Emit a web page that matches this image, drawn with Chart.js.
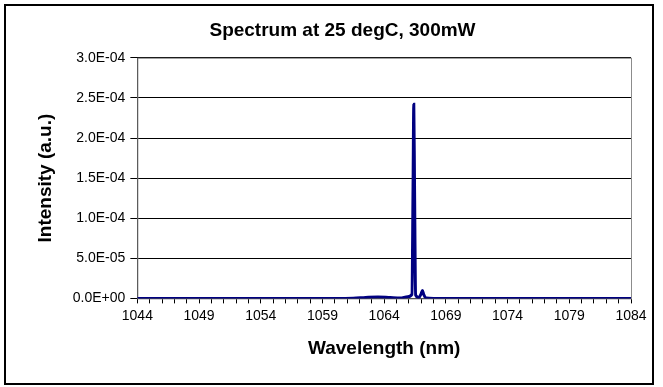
<!DOCTYPE html>
<html>
<head>
<meta charset="utf-8">
<script src="https://cdn.jsdelivr.net/npm/chart.js@4.4.1/dist/chart.umd.min.js"></script>
<style>
  body { margin: 0; background: #fff; }
  #wrap { position: relative; width: 663px; height: 387px; }
  #frame { position: absolute; left: 4px; top: 4px; width: 646px; height: 377px; border: 2px solid #000; pointer-events: none; }
</style>
</head>
<body>
<div id="wrap">
  <canvas id="chart" width="663" height="387"></canvas>
  <div id="frame"></div>
</div>
<script>
// spectrum (nm, a.u.)
const wavelengths = [1044, 1050, 1055, 1060, 1061.5, 1062.5, 1063.5, 1064.5, 1065.3, 1065.9, 1066.25, 1066.34, 1066.4, 1066.46, 1066.55, 1066.8, 1067.0, 1067.1, 1067.2, 1067.4, 1068, 1075, 1084];
const intensity = [0, 0, 0, 0, 0.3e-6, 1.2e-6, 1.8e-6, 1.0e-6, 0.5e-6, 2e-6, 5e-6, 1.4e-4, 2.42e-4, 1.4e-4, 4e-6, 1e-6, 6e-6, 1.0e-5, 5e-6, 0.5e-6, 0, 0, 0];
const xLabels = [1044, 1049, 1054, 1059, 1064, 1069, 1074, 1079, 1084];

const points = wavelengths.map((w, i) => ({ x: w, y: intensity[i] }));

const fmtExp = (v) => {
  const s = Number(v).toExponential(1).toUpperCase();
  const m = s.match(/^(-?[\d.]+)E([+-])(\d+)$/);
  return m[1] + 'E' + m[2] + m[3].padStart(2, '0');
};

// gray box round the plot area, like the Excel original
const plotBorder = {
  id: 'plotBorder',
  beforeDatasetsDraw(chart) {
    const { ctx, chartArea: a } = chart;
    ctx.save();
    ctx.strokeStyle = '#8c8c8c';
    ctx.lineWidth = 1;
    ctx.strokeRect(a.left + 0.5, a.top + 0.5, a.right - a.left, a.bottom - a.top);
    ctx.restore();
  },
};

const font = 'Arial, "Liberation Sans", sans-serif';
const ctx = document.getElementById('chart');

new Chart(ctx, {
  type: 'line',
  data: {
    datasets: [{
      data: points,
      borderColor: '#000080',
      borderWidth: 3,
      pointRadius: 0,
      cubicInterpolationMode: 'monotone',
      fill: false,
    }],
  },
  options: {
    responsive: false,
    animation: false,
    layout: { padding: { left: 34, right: 12, top: 19, bottom: 27 } },
    plugins: {
      legend: { display: false },
      tooltip: { enabled: false },
      title: {
        display: true,
        text: 'Spectrum at 25 degC, 300mW',
        color: '#000',
        font: { family: font, size: 19, weight: 'bold' },
        padding: { top: 0, bottom: 16 },
      },
    },
    scales: {
      x: {
        type: 'linear',
        min: 1044,
        max: 1084,
        grid: { display: true, drawOnChartArea: false, color: '#000', tickLength: 5 },
        border: { color: '#000', width: 1 },
        ticks: {
          stepSize: 1,
          autoSkip: false,
          maxRotation: 0,
          color: '#000',
          font: { family: font, size: 14 },
          padding: 4,
          callback: (v) => (xLabels.includes(v) ? String(v) : ''),
        },
        title: {
          display: true,
          text: 'Wavelength (nm)',
          color: '#000',
          font: { family: font, size: 19, weight: 'bold' },
          padding: { top: 9, bottom: 0 },
        },
      },
      y: {
        min: 0,
        max: 3e-4,
        grid: { color: '#000', tickLength: 7 },
        border: { color: '#000', width: 1 },
        ticks: {
          stepSize: 5e-5,
          color: '#000',
          font: { family: font, size: 14 },
          padding: 5,
          callback: fmtExp,
        },
        title: {
          display: true,
          text: 'Intensity (a.u.)',
          color: '#000',
          font: { family: font, size: 19, weight: 'bold' },
          padding: { top: 0, bottom: 11 },
        },
      },
      // empty strip on the right so the title sits where Excel put it
      yPad: {
        position: 'right',
        display: true,
        grid: { display: false },
        border: { display: false },
        ticks: { display: false },
        afterFit: (scale) => { scale.width = 20; },
      },
    },
  },
  plugins: [plotBorder],
});
</script>
</body>
</html>
